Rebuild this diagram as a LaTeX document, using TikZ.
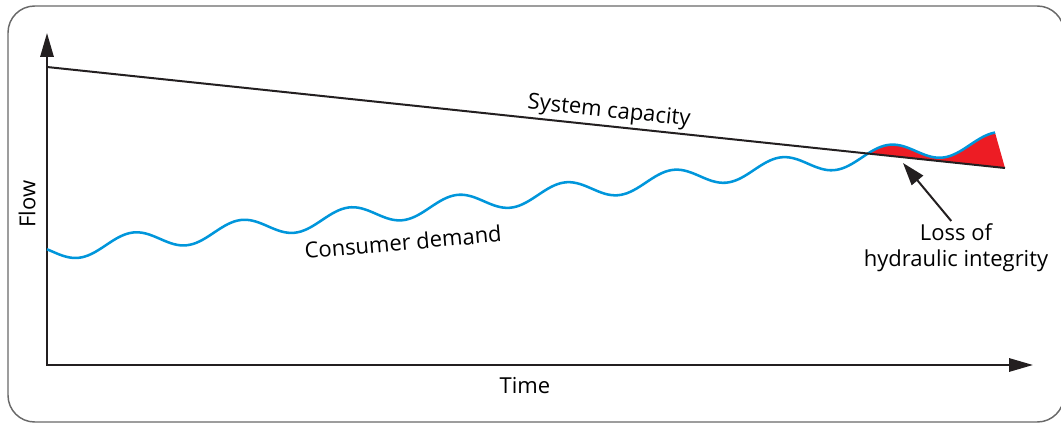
\documentclass[tikz,border=0pt]{standalone}
\usepackage{fontspec}
\setmainfont{Open Sans}
\usetikzlibrary{arrows.meta}

\definecolor{demandblue}{RGB}{0,150,219}
\definecolor{lossred}{RGB}{237,28,36}
\definecolor{axisgray}{RGB}{35,31,32}
\definecolor{framegray}{RGB}{105,105,105}

\tikzset{
  axisline/.style={draw=axisgray, line width=1.6pt, line join=miter,
    {Triangle[length=18pt,width=10pt]}-{Triangle[length=18pt,width=10pt]}},
  capline/.style={draw=axisgray, line width=1.5pt},
  demandline/.style={draw=demandblue, line width=1.9pt},
  pointer/.style={draw=axisgray, line width=1.5pt, -{Triangle[length=17pt,width=11pt]}},
  label/.style={font=\fontsize{16.5}{19.5}\selectfont, inner sep=2pt}
}

\begin{document}
\begin{tikzpicture}[x=0.75pt, y=-0.75pt,
    declare function={dem(\x)=242-0.116*(\x-133)-9.5*cos(3.33333*(\x-133));
                      cap(\x)=67+0.105428*(\x-47);}]
  \useasboundingbox (0,0) rectangle (1061,424);
  \draw[framegray, line width=1.1pt, rounded corners=20pt] (8,6) rectangle (1064,422);

  % axes
  \coordinate (O) at (47,365);
  \coordinate (ytop) at (47,33);
  \coordinate (xend) at (1033,365);
  \draw[axisline] (ytop) -- (O) -- (xend);
  \node[label] (flow) at (27,204) [rotate=90] {Flow};
  \node[label] (time) at (525,386) {Time};

  % capacity and demand
  \coordinate (c0) at (47,67);
  \coordinate (c1) at (1005,168);
  \begin{scope}
    \clip (800,{cap(800)}) -- (c1) -- (1010,0) -- (800,0) -- cycle;
    \fill[lossred] plot[domain=860:995, samples=80, smooth] (\x,{dem(\x)})
      -- (c1) -- (860,{cap(860)}) -- cycle;
  \end{scope}
  \draw[demandline] plot[domain=47:995, samples=300, smooth] (\x,{dem(\x)});
  \draw[capline] (c0) -- node[label, sloped, above, pos=0.585] (caplabel) {System capacity} (c1);
  \node[label] (demandlabel) at (403,242) [rotate=5] {Consumer demand};

  % loss of integrity
  \node[label, align=center] (loss) at (956,248) {Loss of\\hydraulic integrity};
  \coordinate (tip) at (903,163);
  \draw[pointer] (loss.100) -- (tip);
\end{tikzpicture}
\end{document}
